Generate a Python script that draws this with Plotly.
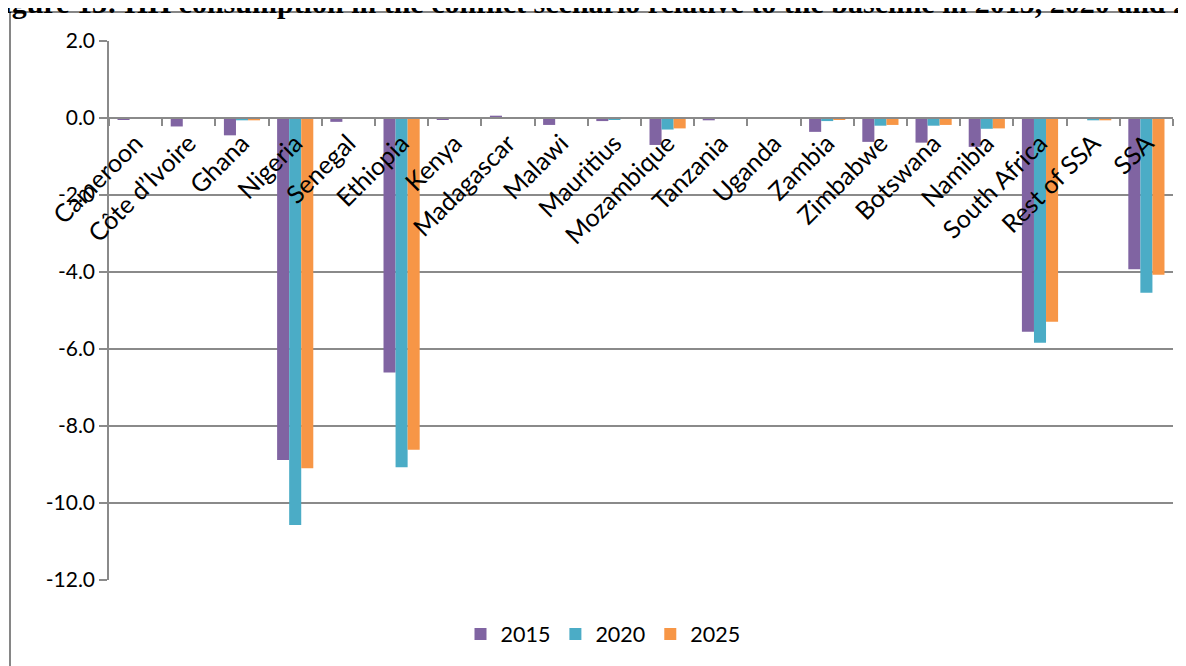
import plotly.graph_objects as go

categories = ["Cameroon", "Côte d’Ivoire", "Ghana", "Nigeria", "Senegal", "Ethiopia", "Kenya",
              "Madagascar", "Malawi", "Mauritius", "Mozambique", "Tanzania", "Uganda", "Zambia",
              "Zimbabwe", "Botswana", "Namibia", "South Africa", "Rest of SSA", "SSA"]
v2015 = [-0.05, -0.22, -0.45, -8.88, -0.10, -6.61, -0.05, 0.06, -0.18, -0.08, -0.70, -0.06, -0.01,
         -0.36, -0.62, -0.64, -0.75, -5.55, -0.02, -3.93]
v2020 = [-0.01, -0.01, -0.06, -10.57, -0.01, -9.07, -0.01, 0.0, -0.01, -0.03, -0.30, -0.01, 0.0,
         -0.08, -0.20, -0.20, -0.28, -5.84, -0.06, -4.54]
v2025 = [-0.01, -0.01, -0.06, -9.10, -0.01, -8.62, -0.01, 0.0, -0.01, -0.02, -0.27, -0.01, 0.0,
         -0.03, -0.18, -0.18, -0.27, -5.29, -0.06, -4.07]
series_names = ["2015", "2020", "2025"]
colors = ["#8064A2", "#4BACC6", "#F79646"]
y_ticks = [2, 0, -2, -4, -6, -8, -10, -12]
y_ticktext = ["2.0", "0.0", "-2.0", "-4.0", "-6.0", "-8.0", "-10.0", "-12.0"]
title_text = "Figure 13: HH consumption in the conflict scenario relative to the baseline in 2015, 2020 and 2025"

# the page body adds an 8px offset; size the figure so it fills the window exactly
OFF = 8
W, H = 1186 - OFF, 666 - OFF
L, R, T, B = 101, 13, 33, 86
PW, PH = W - L - R, H - T - B

def px_x(px):  # screen px -> paper
    return (px - OFF - L) / PW

def px_y(py):
    return (H - B - (py - OFF)) / PH

FONT = "Lato"
fig = go.Figure()
for name, vals, col in zip(series_names, [v2015, v2020, v2025], colors):
    fig.add_trace(go.Bar(x=categories, y=vals, name=name, marker=dict(color=col, line=dict(width=0))))

grid = "#8a8a8a"
fig.update_layout(
    width=W, height=H,
    margin=dict(l=L, r=R, t=T, b=B, autoexpand=False),
    paper_bgcolor="white", plot_bgcolor="white",
    barmode="group", bargap=0.32, bargroupgap=0,
    font=dict(family=FONT, size=21, color="black"),
    xaxis=dict(type="category", anchor="free", position=12 / 14, showline=True, linecolor=grid,
               linewidth=1.5, ticks="outside", tickson="boundaries", ticklen=7, tickcolor=grid,
               tickwidth=1.5, tickangle=-45, showgrid=False, automargin=False,
               tickfont=dict(family=FONT, size=25)),
    yaxis=dict(range=[-12, 2], tickvals=y_ticks, ticktext=y_ticktext, showgrid=True,
               gridcolor=grid, gridwidth=1.5, showline=True, linecolor=grid, linewidth=1.5,
               ticks="outside", ticklen=8, tickcolor=grid, tickwidth=1.5, zeroline=False,
               automargin=False, tickfont=dict(family=FONT, size=21)),
    legend=dict(orientation="h", x=px_x(603), xanchor="center", y=px_y(634), yanchor="middle",
                font=dict(family=FONT, size=21.5), bgcolor="rgba(0,0,0,0)"),
    showlegend=True,
)

# outer chart border (extends beyond the visible page on right/bottom)
fig.add_shape(type="line", xref="paper", yref="paper", x0=px_x(10), x1=px_x(1200),
              y0=px_y(12), y1=px_y(12), line=dict(color="#868686", width=2))
fig.add_shape(type="line", xref="paper", yref="paper", x0=px_x(10), x1=px_x(10),
              y0=px_y(12), y1=px_y(700), line=dict(color="#868686", width=2))

fig.add_annotation(text="<b>" + title_text + "</b>", xref="paper", yref="paper",
                   x=px_x(-17), xanchor="left", y=px_y(21), yanchor="bottom", showarrow=False,
                   font=dict(family="Liberation Serif", size=30, color="black"))

fig.write_html("out.html")
